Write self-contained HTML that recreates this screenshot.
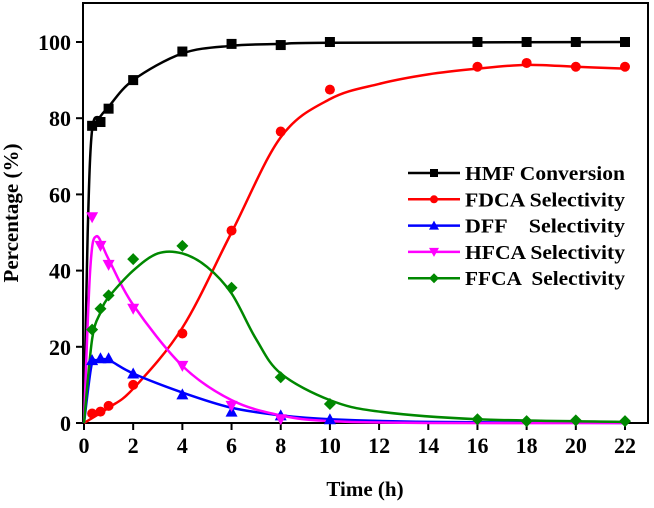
<!DOCTYPE html>
<html><head><meta charset="utf-8"><style>
body{margin:0;background:#fff;}
svg text{font-family:"Liberation Serif",serif;font-weight:bold;fill:#000;}
</style></head><body>
<svg width="654" height="503" xmlns="http://www.w3.org/2000/svg" id="chart">
<rect x="83" y="3" width="565" height="420" fill="none" stroke="#000" stroke-width="2"/>
<g id="axes"></g><g id="curves"></g><g id="marks"></g>
<text x="18" y="213" font-size="21" text-anchor="middle" transform="rotate(-90 18 213)">Percentage (%)</text>
<text x="365" y="496" font-size="21" text-anchor="middle">Time (h)</text>
<g id="legend"></g>
</svg>
<script>
const xTicks=[0,2,4,6,8,10,12,14,16,18,20,22];
const yTicks=[0,20,40,60,80,100];
const names=["HMF Conversion","FDCA Selectivity","DFF    Selectivity","HFCA Selectivity","FFCA  Selectivity"];
const colors=["#000","#f00","#00f","#f0f","#080"];
const shapes=["square","circle","up","down","diamond"];
const tHMF=[0.33,0.67,1,2,4,6,8,10,16,18,20,22];
const vHMF=[78,79,82.5,90,97.5,99.5,99.2,100,100,100,100,100];
const tFDCA=[0.33,0.67,1,2,4,6,8,10,16,18,20,22];
const vFDCA=[2.5,3,4.5,10,23.5,50.5,76.5,87.5,93.5,94.5,93.5,93.5];
const tDFF=[0.33,0.67,1,2,4,6,8,10];
const vDFF=[16.5,17,17,13,7.5,3,2,1];
const tHFCA=[0.33,0.67,1,2,4,6,8];
const vHFCA=[54,46.5,41.5,30,15,4.5,1];
const tFFCA=[0.33,0.67,1,2,4,6,8,10,16,18,20,22];
const vFFCA=[24.5,30,33.5,43,46.5,35.5,12,5,1,0.5,0.7,0.5];
const fitT=[[0,0.15,0.33,0.67,1,2,4,6,8,10,22],[0,1,2,4,6,8,10,12,14,16,18,20,22],[0,0.3,0.5,1,2,4,6,8,10,14,22],[0,0.25,0.5,1,2,4,6,8,10,14,22],[0,0.33,0.67,1,2,3,4,5,6,7,8,10,12,16,22]];
const fitV=[[0,50,77,80.5,83,90,97,99,99.5,99.8,100],[0,4,9,25,50,75,85,89,91.5,93,94,93.5,93],[0,15,16.5,16.5,13,8,4,2,1,0.3,0],[0,40,49,43,31,15,6,2,0.5,0,0],[0,22,29,33,40,44.5,44.5,41,34,22,13,6,3,1,0.3]];
const ts=[tHMF,tFDCA,tDFF,tHFCA,tFFCA], vs=[vHMF,vFDCA,vDFF,vHFCA,vFFCA];
const X=t=>84+t*(625-84)/22, Y=v=>423-v*3.81;
const NS="http://www.w3.org/2000/svg";
function mk(tag,at,parent){const e=document.createElementNS(NS,tag);for(const k in at)e.setAttribute(k,at[k]);document.getElementById(parent).appendChild(e);return e;}
xTicks.forEach(t=>{
 const l=mk("line",{x1:X(t),x2:X(t),y1:423,y2:430,stroke:"#000","stroke-width":2},"axes");
 
 
 const s=mk("text",{x:X(t),y:453,"font-size":22,"text-anchor":"middle"},"axes");s.textContent=t;
 
 
});
yTicks.forEach(v=>{
 const l=mk("line",{x1:76,x2:83,y1:Y(v),y2:Y(v),stroke:"#000","stroke-width":2},"axes");
 
 
 const s=mk("text",{x:71,y:Y(v)+8,"font-size":22,"text-anchor":"end"},"axes");s.textContent=v;
 
 
});
function path(pts){let d=`M${pts[0][0]},${pts[0][1]}`;for(let i=0;i<pts.length-1;i++){const p0=pts[i-1]||pts[i],p1=pts[i],p2=pts[i+1],p3=pts[i+2]||p2;d+=` C${p1[0]+(p2[0]-p0[0])/6},${p1[1]+(p2[1]-p0[1])/6} ${p2[0]-(p3[0]-p1[0])/6},${p2[1]-(p3[1]-p1[1])/6} ${p2[0]},${p2[1]}`;}return d;}
function marker(sh,x,y,c,g,s){s=s||5;let e;
 if(sh=="square")e=mk("rect",{x:x-s,y:y-s,width:2*s,height:2*s,fill:c},g);
 else if(sh=="circle")e=mk("circle",{cx:x,cy:y,r:s,fill:c},g);
 else if(sh=="up")e=mk("polygon",{points:`${x},${y-s-1} ${x-s-1},${y+s} ${x+s+1},${y+s}`,fill:c},g);
 else if(sh=="down")e=mk("polygon",{points:`${x},${y+s+1} ${x-s-1},${y-s} ${x+s+1},${y-s}`,fill:c},g);
 else e=mk("polygon",{points:`${x},${y-s-1} ${x+s+1},${y} ${x},${y+s+1} ${x-s-1},${y}`,fill:c},g);
 return e;}
for(let k=0;k<5;k++){
 const p=mk("path",{d:path(fitT[k].map((t,i)=>[X(t),Y(fitV[k][i])])),fill:"none",stroke:colors[k],"stroke-width":2.5},"curves");
 
 
 ts[k].forEach((t,i)=>{const m=marker(shapes[k],X(t),Y(vs[k][i]),colors[k],"marks");
  
  });
 const yy=173+k*26.3;
 const l=mk("line",{x1:408,x2:460,y1:yy,y2:yy,stroke:colors[k],"stroke-width":2.5},"legend");
 
 
 const m=marker(shapes[k],434,yy,colors[k],"legend",4);
 
 
 const tx=mk("text",{x:465,y:yy+7,"font-size":19.5,"textLength":160,"lengthAdjust":"spacingAndGlyphs"},"legend");tx.textContent=names[k];
 tx.style.whiteSpace="pre";
 
 
}
</script>
</body></html>
